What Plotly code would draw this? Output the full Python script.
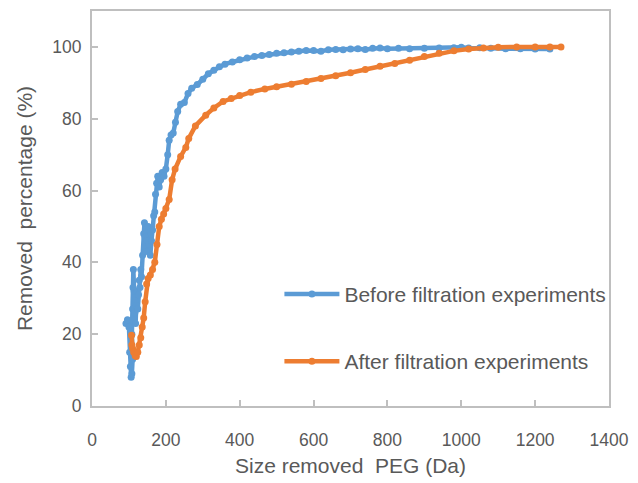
import plotly.graph_objects as go

# Before filtration experiments: removed PEG size (Da) vs removed percentage (%)
before_size = [92, 96, 100, 102, 104, 106, 108, 110, 108, 110, 111, 112, 114, 116, 118,
               120, 122, 124, 126, 128, 130, 132, 134, 137, 140, 142, 144, 146, 149, 152,
               155, 158, 161, 164, 167, 170, 172, 175, 178, 182, 186, 190, 195, 200, 205,
               209, 214, 220, 226, 232, 240, 250, 260, 270, 285, 300, 315, 330, 345, 360,
               380, 400, 420, 440, 460, 480, 500, 520, 540, 560, 580, 600, 620, 640, 660,
               680, 700, 720, 740, 760, 780, 800, 830, 860, 900, 940, 980, 1000, 1020, 1050,
               1080, 1120, 1160, 1200, 1240]
before_pct = [23, 24, 22, 15, 11, 8, 9, 13, 20, 27, 33, 38, 32, 26, 23,
              28, 32, 27, 31, 35, 33, 38, 36, 42, 48, 51, 47, 43, 46, 50,
              45, 42, 46, 49, 53, 54, 59, 62, 64, 61, 63, 65, 64, 66, 70,
              74, 75.5, 76, 79, 82, 84, 84.5, 87, 88.5, 89.5, 91, 92.5, 93.5, 94.5, 95.2,
              95.8, 96.4, 96.9, 97.3, 97.6, 97.9, 98.2, 98.4, 98.6, 98.8, 99.0, 99.0, 98.8, 99.2, 99.3,
              99.2, 99.4, 99.5, 99.3, 99.6, 99.7, 99.5, 99.6, 99.5, 99.6, 99.7, 99.8, 99.9, 99.7, 99.8,
              99.6, 99.5, 99.5, 99.4, 99.4]

# After filtration experiments
after_size = [107, 108, 110, 113, 117, 120, 124, 128, 132, 136, 140, 144, 148, 152, 158,
              164, 170, 176, 182, 188, 194, 200, 209, 217, 225, 240, 254, 262, 280, 308,
              330, 355, 377, 400, 430, 468, 500, 540, 580, 620, 660, 700, 740, 780, 820,
              860, 900, 940, 980, 1020, 1060, 1100, 1150, 1200, 1240, 1270]
after_pct = [19.7, 17, 16, 15, 14, 13.8, 15, 17, 19, 22, 24.5, 29, 34, 35.5, 36.5,
             38, 40, 45, 50, 52, 53.5, 55, 57.5, 63, 66, 69.5, 72, 74.5, 78, 81,
             83, 84.8, 85.6, 86.5, 87.4, 88.3, 88.9, 89.6, 90.4, 91.2, 92, 92.8, 93.7, 94.6, 95.4,
             96.3, 97.3, 98.2, 98.9, 99.4, 99.7, 99.9, 100, 100, 100, 100]

x_ticks = [0, 200, 400, 600, 800, 1000, 1200, 1400]
y_ticks = [0, 20, 40, 60, 80, 100]

BLUE = "#5B9BD5"
ORANGE = "#ED7D31"
FRAME = "#BFBFBF"
TEXT = "#595959"
FONT = "Liberation Sans, Arial, sans-serif"

fig = go.Figure()
fig.add_trace(go.Scatter(
    x=before_size, y=before_pct, mode="lines+markers",
    name="Before filtration experiments", legendgroup="before",
    line=dict(color=BLUE, width=4.5),
    marker=dict(color=BLUE, size=7),
))
fig.add_trace(go.Scatter(
    x=after_size, y=after_pct, mode="lines+markers",
    name="After filtration experiments", legendgroup="after",
    line=dict(color=ORANGE, width=4.5),
    marker=dict(color=ORANGE, size=7),
))

axis_common = dict(
    showgrid=False, zeroline=False,
    showline=True, mirror=True, linecolor=FRAME, linewidth=2,
    ticks="inside", ticklen=6, tickwidth=2, tickcolor=FRAME,
    tickfont=dict(family=FONT, size=17.5, color=TEXT),
)

fig.update_layout(
    width=638, height=483,
    margin=dict(l=92, r=23, t=9, b=77),
    paper_bgcolor="white", plot_bgcolor="white",
    font=dict(family=FONT, color=TEXT),
    xaxis=dict(
        range=[0, 1400], tickvals=x_ticks,
        ticklabelstandoff=17,
        title=dict(text="Size removed\u00a0 PEG (Da)", font=dict(size=21, color=TEXT), standoff=9),
        **axis_common,
    ),
    yaxis=dict(
        range=[0, 110], tickvals=y_ticks,
        ticklabelstandoff=5,
        title=dict(text="Removed\u00a0 percentage (%)", font=dict(size=21, color=TEXT), standoff=14),
        **axis_common,
    ),
    legend=dict(
        x=0.3625, y=0.198, xanchor="left", yanchor="middle",
        bgcolor="rgba(0,0,0,0)",
        font=dict(family=FONT, size=21, color=TEXT),
        tracegroupgap=37,
        itemwidth=55,
    ),
    showlegend=True,
)

fig.write_html("out.html")
